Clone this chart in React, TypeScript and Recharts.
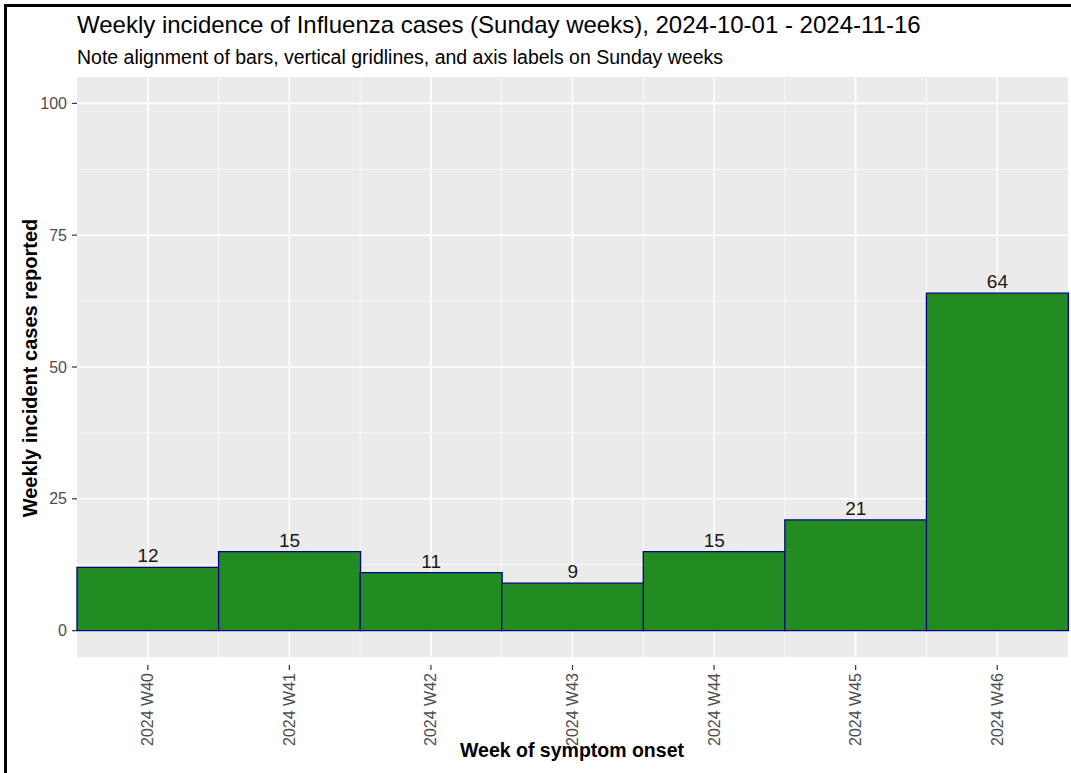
import React from 'react'
import { BarChart, Bar, XAxis, YAxis, CartesianGrid, LabelList } from 'recharts'

const weeks = ['2024 W40', '2024 W41', '2024 W42', '2024 W43', '2024 W44', '2024 W45', '2024 W46']
const cases = [12, 15, 11, 9, 15, 21, 64]
const yTicks = [0, 25, 50, 75, 100]
const yMinor = [12.5, 37.5, 62.5, 87.5]
const yDomain = [-5, 105]

const data = weeks.map((week, i) => ({ week, cases: cases[i] }))

const W = 1071
const H = 773
const font = '"Liberation Sans", Arial, sans-serif'

const toY = (v: number, offset: any) =>
  offset.top + (offset.height * (yDomain[1] - v)) / (yDomain[1] - yDomain[0])

function WeekTick(props: any) {
  const { x, y, payload } = props
  return (
    <g transform={`translate(${x},${y})`}>
      <line x1={0} y1={0} x2={0} y2={5} stroke="#333" strokeWidth={1.2} />
      <text
        transform="rotate(-90)"
        x={-8}
        y={5.5}
        textAnchor="end"
        fontSize={16}
        fill="#4D4D4D"
        fontFamily={font}
      >
        {payload.value}
      </text>
    </g>
  )
}

function App() {
  return (
    <div style={{ position: 'absolute', left: 0, top: 0, width: W, height: H, fontFamily: font, background: '#fff', overflow: 'hidden' }}>
      <div style={{ position: 'absolute', left: 77, top: 11, fontSize: 24, color: '#000', whiteSpace: 'nowrap' }}>
        Weekly incidence of Influenza cases (Sunday weeks), 2024-10-01 - 2024-11-16
      </div>
      <div style={{ position: 'absolute', left: 77, top: 46, fontSize: 19.5, color: '#000', whiteSpace: 'nowrap' }}>
        Note alignment of bars, vertical gridlines, and axis labels on Sunday weeks
      </div>
      <div
        style={{
          position: 'absolute', left: 30, top: 368, fontSize: 20, fontWeight: 'bold', whiteSpace: 'nowrap',
          transform: 'translate(-50%, -50%) rotate(-90deg)',
        }}
      >
        Weekly incident cases reported
      </div>
      <div
        style={{
          position: 'absolute', left: 572, top: 750, fontSize: 19.5, fontWeight: 'bold', whiteSpace: 'nowrap',
          transform: 'translate(-50%, -50%)',
        }}
      >
        Week of symptom onset
      </div>
      <div style={{ position: 'absolute', left: 0, top: 0 }}>
        <BarChart width={W} height={H} data={data} margin={{ top: 77, right: 3, left: 0, bottom: 0 }} barCategoryGap={0}>
          <CartesianGrid
            fill="#EBEBEB"
            stroke="#fff"
            strokeWidth={0.8}
            horizontalCoordinatesGenerator={({ offset }: any) => yMinor.map((v) => toY(v, offset))}
            verticalCoordinatesGenerator={({ offset }: any) =>
              weeks.slice(1).map((_, i) => offset.left + ((i + 1) * offset.width) / weeks.length)
            }
          />
          <CartesianGrid
            fill="none"
            stroke="#fff"
            strokeWidth={1.6}
            horizontalCoordinatesGenerator={({ offset }: any) => yTicks.map((v) => toY(v, offset))}
            verticalCoordinatesGenerator={({ offset }: any) =>
              weeks.map((_, i) => offset.left + ((i + 0.5) * offset.width) / weeks.length)
            }
          />
          <XAxis
            dataKey="week"
            height={116}
            axisLine={false}
            tickLine={false}
            interval={0}
            tick={<WeekTick />}
          />
          <YAxis
            width={77}
            domain={yDomain}
            ticks={yTicks}
            allowDataOverflow
            axisLine={false}
            tickSize={5}
            tickMargin={5}
            tickLine={{ stroke: '#333', strokeWidth: 1.2 }}
            tick={{ fontSize: 16, fill: '#4D4D4D', fontFamily: font }}
          />
          <Bar dataKey="cases" fill="#228B22" stroke="#000080" strokeWidth={1.3} isAnimationActive={false}>
            <LabelList dataKey="cases" position="top" offset={5} fontSize={19} fill="#1A1A1A" fontFamily={font} />
          </Bar>
        </BarChart>
      </div>
      <div
        style={{
          position: 'absolute', left: 4, top: 4, width: W, height: H, pointerEvents: 'none',
          borderLeft: '3px solid #000', borderTop: '3px solid #000',
        }}
      />
    </div>
  )
}

export default App
